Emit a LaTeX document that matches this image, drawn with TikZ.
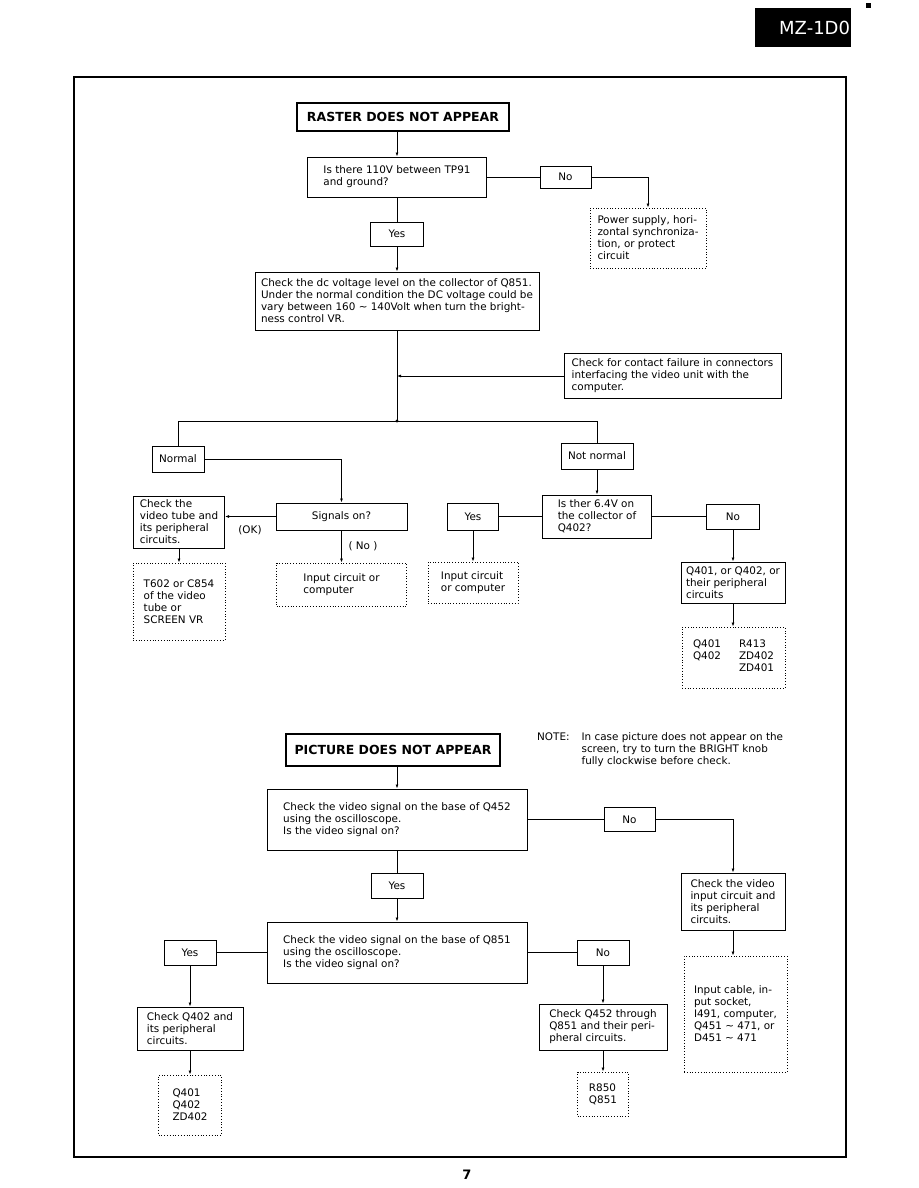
\documentclass[tikz,border=0pt]{standalone}
\usepackage{fontspec}
\setmainfont{DejaVu Sans}
\usetikzlibrary{positioning,arrows.meta}

\begin{document}
\begin{tikzpicture}[
  x=1pt, y=-1pt,
  font=\fontsize{10.4}{12}\selectfont,
  sz/.style 2 args={minimum width=#1, minimum height=#2},
  box/.style={draw, line width=1pt, align=left, inner sep=2pt},
  dotbox/.style={draw, line width=0.9pt, dash pattern=on 0.9pt off 1.9pt, align=left, inner sep=2pt},
  tag/.style={draw, line width=1pt, inner sep=1pt},
  title/.style={draw, line width=2pt, inner sep=2pt, font=\fontsize{12.5}{15}\selectfont\bfseries},
  flow/.style={-{Latex[length=4pt,width=3pt]}, line width=0.9pt},
  link/.style={line width=0.9pt}
]
\useasboundingbox (0,0) rectangle (918,1188);

\node[fill=black, text=white, sz={96}{39}, text width=94, align=right, inner xsep=1pt, font=\fontsize{18}{18}\selectfont] (model) at (803,27.5) {MZ-1D0};
\fill (866,3) rectangle (871,8);
\draw[line width=1.2pt] (74,77) rectangle (846,1157);

\node[title, sz={212}{28}] (raster) at (403,117) {RASTER DOES NOT APPEAR};
\node[box, sz={179}{40}] (q110) at (397,177) {Is there 110V between TP91\\and ground?};
\node[tag, sz={51}{22}] (no1) at (565.5,177) {No};
\node[dotbox, sz={116}{60}] (power) at (648,238) {Power supply, hori-\\zontal synchroniza-\\tion, or protect\\circuit};
\node[tag, sz={53}{24}] (yes1) at (397,234) {Yes};
\node[box, sz={284}{58}] (dcvolt) at (397,301) {Check the dc voltage level on the collector of Q851.\\Under the normal condition the DC voltage could be\\vary between 160 ∼ 140Volt when turn the bright-\\ness control VR.};
\node[box, sz={217}{45}] (contact) at (672.5,376) {Check for contact failure in connectors\\interfacing the video unit with the\\computer.};
\coordinate (split) at (397,421);

\node[tag, sz={52}{26}] (normal) at (178,459) {Normal};
\node[tag, sz={72}{26}] (notnorm) at (597,456) {Not normal};
\node[box, sz={91}{52}] (tube) at (179,522) {Check the\\video tube and\\its peripheral\\circuits.};
\node[tag, sz={131}{27}] (signals) at (341.5,516.5) {Signals on?};
\node (oklbl) at (250,530) {(OK)};
\node (nolbl) at (363,546) {( No )};
\node[dotbox, sz={92}{77}] (t602) at (179,601.5) {T602 or C854\\of the video\\tube or\\SCREEN VR};
\node[dotbox, sz={130}{43}] (inp1) at (341.5,584.5) {Input circuit or\\computer};
\node[box, sz={109}{43}] (q64) at (597,516.5) {Is ther 6.4V on\\the collector of\\Q402?};
\node[tag, sz={51}{27}] (yes2) at (473,516.5) {Yes};
\node[dotbox, sz={90}{41}] (inp2) at (473,582.5) {Input circuit\\or computer};
\node[tag, sz={53}{25}] (no2) at (733,516.5) {No};
\node[box, sz={104}{41}] (q401) at (733,582.5) {Q401, or Q402, or\\their peripheral\\circuits};
\node[dotbox, sz={103}{61}] (parts1) at (733.5,657.5) {\begin{tabular}{@{}l@{\hspace{18pt}}l@{}}Q401 & R413\\Q402 & ZD402\\ & ZD401\end{tabular}};

\draw[flow] (q110.north |- raster.south) -- (q110.north);
\draw[link] (q110.east) -- (no1.west);
\draw[flow] (no1.east) -| (power.north);
\draw[link] (q110.south) -- (yes1.north);
\draw[flow] (yes1.south) -- (dcvolt.north);
\draw[link] (dcvolt.south) -- (split);
\draw[flow] (contact.west) -- (contact.west -| dcvolt.south);
\fill (split) circle (1.6pt);
\draw[link] (split) -| (normal.north);
\draw[link] (split) -| (notnorm.north);
\draw[flow] (normal.east) -| (signals.north);
\draw[flow] (signals.west) -- (signals.west -| tube.east);
\draw[flow] (signals.south) -- (inp1.north);
\draw[flow] (tube.south) -- (t602.north);
\draw[flow] (notnorm.south) -- (q64.north);
\draw[link] (q64.west) -- (yes2.east);
\draw[flow] (yes2.south) -- (inp2.north);
\draw[link] (q64.east) -- (no2.west);
\draw[flow] (no2.south) -- (q401.north);
\draw[flow] (q401.south) -- (q401.south |- parts1.north);

\node[title, sz={214}{32}] (picture) at (393,750) {PICTURE DOES NOT APPEAR};
\node[anchor=north west, inner sep=0pt] (note) at (537,732) {\begin{tabular}{@{}l@{\hspace{12pt}}l@{}}NOTE: & In case picture does not appear on the\\ & screen, try to turn the BRIGHT knob\\ & fully clockwise before check.\end{tabular}};
\node[box, sz={260}{61}] (q452) at (397,819.5) {Check the video signal on the base of Q452\\using the oscilloscope.\\Is the video signal on?};
\node[tag, sz={51}{24}] (no3) at (629.5,819.5) {No};
\node[tag, sz={52}{25}] (yes3) at (397,885.5) {Yes};
\node[box, sz={260}{61}] (q851) at (397,952.5) {Check the video signal on the base of Q851\\using the oscilloscope.\\Is the video signal on?};
\node[tag, sz={52}{25}] (yes4) at (190,952.5) {Yes};
\node[box, sz={106}{43}] (chkq402) at (190,1028.5) {Check Q402 and\\its peripheral\\circuits.};
\node[dotbox, sz={63}{60}] (parts2) at (190,1105) {Q401\\Q402\\ZD402};
\node[tag, sz={52}{25}] (no4) at (603,952.5) {No};
\node[box, sz={128}{46}] (chkq452) at (603,1027) {Check Q452 through\\Q851 and their peri-\\pheral circuits.};
\node[dotbox, sz={51}{44}] (parts3) at (603,1094) {R850\\Q851};
\node[box, sz={104}{57}] (chkvid) at (733,901.5) {Check the video\\input circuit and\\its peripheral\\circuits.};
\node[dotbox, sz={103}{116}] (cable) at (735.5,1014) {Input cable, in-\\put socket,\\I491, computer,\\Q451 ∼ 471, or\\D451 ∼ 471};

\draw[flow] (q452.north |- picture.south) -- (q452.north);
\draw[link] (q452.east) -- (no3.west);
\draw[flow] (no3.east) -| (chkvid.north);
\draw[link] (q452.south) -- (yes3.north);
\draw[flow] (yes3.south) -- (q851.north);
\draw[link] (q851.west) -- (yes4.east);
\draw[flow] (yes4.south) -- (chkq402.north);
\draw[flow] (chkq402.south) -- (parts2.north);
\draw[link] (q851.east) -- (no4.west);
\draw[flow] (no4.south) -- (chkq452.north);
\draw[flow] (chkq452.south) -- (parts3.north);
\draw[flow] (chkvid.south) -- (chkvid.south |- cable.north);

\node[font=\fontsize{13}{13}\selectfont\bfseries] (pagenum) at (467,1175) {7};
\end{tikzpicture}
\end{document}
